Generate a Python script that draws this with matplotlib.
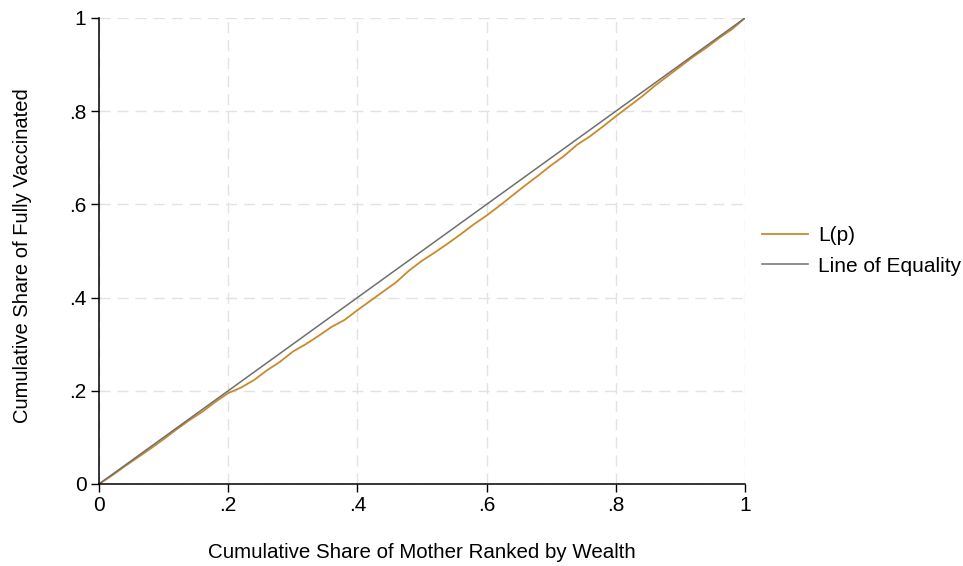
import matplotlib.pyplot as plt
import numpy as np

plt.rcParams['font.family'] = ['Liberation Sans', 'DejaVu Sans']

# cumulative share of mothers (ranked by wealth) and of fully vaccinated
p = [0.00, 0.02, 0.04, 0.06, 0.08, 0.10, 0.12, 0.14, 0.16, 0.18,
     0.20, 0.22, 0.24, 0.26, 0.28, 0.30, 0.32, 0.34, 0.36, 0.38,
     0.40, 0.42, 0.44, 0.46, 0.48, 0.50, 0.52, 0.54, 0.56, 0.58,
     0.60, 0.62, 0.64, 0.66, 0.68, 0.70, 0.72, 0.74, 0.76, 0.78,
     0.80, 0.82, 0.84, 0.86, 0.88, 0.90, 0.92, 0.94, 0.96, 0.98, 1.00]
lp = [0.000, 0.018, 0.038, 0.057, 0.076, 0.096, 0.117, 0.137, 0.155, 0.176,
      0.195, 0.207, 0.223, 0.244, 0.262, 0.284, 0.300, 0.318, 0.337, 0.352,
      0.373, 0.393, 0.413, 0.433, 0.458, 0.479, 0.497, 0.516, 0.536, 0.557,
      0.576, 0.597, 0.619, 0.641, 0.662, 0.684, 0.704, 0.728, 0.746, 0.767,
      0.789, 0.810, 0.831, 0.854, 0.875, 0.896, 0.917, 0.936, 0.957, 0.976, 1.000]
equality = [0, 1]

ticks = [0, 0.2, 0.4, 0.6, 0.8, 1]
tick_labels = ['0', '.2', '.4', '.6', '.8', '1']

fig = plt.figure(figsize=(9.63, 5.66), dpi=100)
ax = fig.add_axes([0.1028, 0.1449, 0.6708, 0.8233])

ax.plot(p, lp, color='#c98a2c', linewidth=1.3, label='L(p)')
ax.plot(equality, equality, color='#6f6f6f', linewidth=1.1, label='Line of Equality')

ax.set_xlim(0, 1)
ax.set_ylim(0, 1)
ax.set_xticks(ticks)
ax.set_xticklabels(tick_labels)
ax.set_yticks(ticks)
ax.set_yticklabels(tick_labels)
ax.tick_params(direction='out', length=6, width=1, labelsize=15, colors='black', pad=3)

ax.grid(True, color='#e2e2e2', linestyle=(0, (8, 5)), linewidth=1)
ax.set_axisbelow(True)
for s in ['top', 'right']:
    ax.spines[s].set_visible(False)
for s in ['left', 'bottom']:
    ax.spines[s].set_linewidth(1.1)

ax.set_xlabel('Cumulative Share of Mother Ranked by Wealth', fontsize=14.8)
ax.xaxis.set_label_coords(0.5, -0.127)
ax.set_ylabel('Cumulative Share of Fully Vaccinated', fontsize=14.5)
ax.yaxis.set_label_coords(-0.104, 0.49)

ax.legend(loc='center left', bbox_to_anchor=(1.013, 0.5), borderaxespad=0,
          frameon=False, fontsize=15, handlelength=2.2, handletextpad=0.5,
          labelspacing=0.55)

plt.savefig('out.png', dpi=100)
